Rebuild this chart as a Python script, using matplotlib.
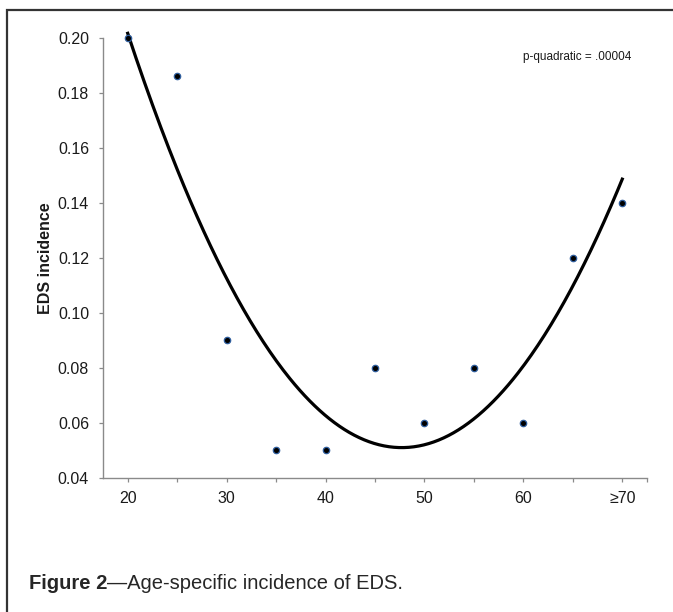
import numpy as np
import matplotlib
matplotlib.use("Agg")
import matplotlib.pyplot as plt
from matplotlib.patches import Rectangle

plt.rcParams['font.family'] = ['Liberation Sans', 'DejaVu Sans']

# Data
ages = [20, 25, 30, 35, 40, 45, 50, 55, 60, 65, 70]
incidence = [0.20, 0.186, 0.09, 0.05, 0.05, 0.08, 0.06, 0.08, 0.06, 0.12, 0.14]
xtick_values = [20, 30, 40, 50, 60, 70]
xtick_labels = ['20', '30', '40', '50', '60', '≥70']
ytick_values = [0.04, 0.06, 0.08, 0.10, 0.12, 0.14, 0.16, 0.18, 0.20]
ylabel = 'EDS incidence'
annotation = 'p-quadratic = .00004'
caption_bold = 'Figure 2'
caption_rest = '—Age-specific incidence of EDS.'

W, H = 673, 612
fig = plt.figure(figsize=(W / 100, H / 100), dpi=100)
fig.patch.set_facecolor('white')

ax = fig.add_axes([103 / W, 1 - 477.5 / H, (647 - 103) / W, (477.5 - 38) / H])

# quadratic trend
coef = np.polyfit(ages, incidence, 2)
xs = np.linspace(ages[0], ages[-1], 300)
ax.plot(xs, np.polyval(coef, xs), color='black', lw=2.3, clip_on=False, zorder=2)

ax.plot(ages, incidence, linestyle='none', marker='o', markersize=4.6,
        markerfacecolor='black', markeredgecolor='#2f5e9e', markeredgewidth=0.9,
        zorder=3, clip_on=False)

ax.set_xlim(17.5, 72.5)
ax.set_ylim(0.04, 0.20)

minor = list(range(20, 71, 5)) + [72.5]
ax.set_xticks(minor)
labels = []
for v in minor:
    labels.append(xtick_labels[xtick_values.index(v)] if v in xtick_values else '')
ax.set_xticklabels(labels)
ax.set_yticks(ytick_values)
ax.set_yticklabels([f'{v:.2f}' for v in ytick_values])

for s in ['top', 'right']:
    ax.spines[s].set_visible(False)
for s in ['left', 'bottom']:
    ax.spines[s].set_color('#8a8a8a')
    ax.spines[s].set_linewidth(1.0)

ax.tick_params(axis='both', direction='out', length=3, width=0.9, color='#8a8a8a',
               labelsize=11.5, labelcolor='#1a1a1a')
ax.tick_params(axis='x', pad=6.5)
ax.tick_params(axis='y', pad=7)

ax.set_ylabel(ylabel, fontsize=11.5, fontweight='bold', color='#1a1a1a')
ax.yaxis.set_label_coords(-(103 - 53) / (647 - 103), 0.5)

fig.text(577.5 / W, 1 - 57 / H, annotation, fontsize=8.5, ha='center', va='center',
         color='#1a1a1a')

# caption
cap_family = ['Liberation Sans Narrow', 'Liberation Sans', 'DejaVu Sans']
t1 = fig.text(29 / W, 1 - 589 / H, caption_bold, fontsize=14.5, fontweight='bold',
              family=cap_family, color='#262626', ha='left', va='baseline')
fig.add_artist(plt.Annotation(caption_rest, xy=(1, 0), xycoords=t1, ha='left', va='bottom',
                              fontsize=14.5, family=cap_family,
                              color='#262626', annotation_clip=False))

# border
fig.add_artist(Rectangle((7 / W, -0.1), 1.2, 1 - 10 / H + 0.1, transform=fig.transFigure,
                         fill=False, edgecolor='#333333', linewidth=1.6))

fig.savefig('out.png', dpi=100)
